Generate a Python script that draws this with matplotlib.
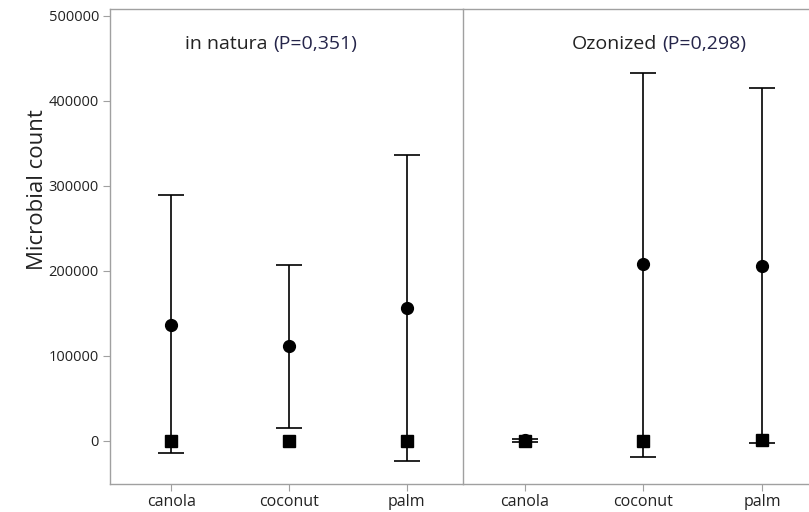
import matplotlib
matplotlib.use("Agg")
import matplotlib.pyplot as plt

plt.rcParams['font.family'] = ['Open Sans', 'DejaVu Sans']

categories = ["canola", "coconut", "palm"]

# in natura
nat_mean = [136300, 112000, 155900]
nat_upper = [289400, 207600, 336100]
nat_lower = [-14100, 15600, -23500]
nat_median = [0, 0, 0]

# ozonized
ozo_mean = [1000, 208800, 206000]
ozo_upper = [2700, 433300, 415600]
ozo_lower = [-800, -18400, -2000]
ozo_median = [0, 0, 1200]

panel_titles = ["in natura", "Ozonized"]
panel_pvals = ["(P=0,351)", "(P=0,298)"]

yticks = [0, 100000, 200000, 300000, 400000, 500000]

W, H = 809, 512
fig = plt.figure(figsize=(W / 100, H / 100), dpi=100)
ax1 = fig.add_axes([110 / W, 1 - 484 / H, 353 / W, 475 / H])
ax2 = fig.add_axes([463 / W, 1 - 484 / H, 356 / W, 475 / H], sharey=ax1)

spine_c = "#a0a0a0"
text_c = "#222222"

def draw(ax, mean, upper, lower, median, title, pval, tx_right, tx_left):
    x = list(range(len(categories)))
    yerr = [[m - l for m, l in zip(mean, lower)], [u - m for m, u in zip(mean, upper)]]
    ax.errorbar(x, mean, yerr=yerr, fmt='none', ecolor='black', elinewidth=1.2,
                capsize=9.7, capthick=1.2, zorder=2)
    ax.plot(x, mean, 'o', color='black', markersize=8.5, zorder=3)
    ax.plot(x, median, 's', color='black', markersize=9, zorder=4)
    ax.set_xlim(-0.52, 2.48)
    ax.set_xticks(x)
    ax.set_xticklabels(categories, fontsize=11.5, color=text_c)
    for s in ax.spines.values():
        s.set_color(spine_c)
        s.set_linewidth(1.0)
    ax.tick_params(axis='x', colors=spine_c, labelcolor=text_c, length=5, pad=2)
    ax.text(tx_right, 0.926, title, transform=ax.transAxes, fontsize=14, color=text_c,
            ha='right', va='center')
    ax.text(tx_left, 0.926, pval, transform=ax.transAxes, fontsize=14,
            color='#25254a', ha='left', va='center')

draw(ax1, nat_mean, nat_upper, nat_lower, nat_median, panel_titles[0], panel_pvals[0], 0.445, 0.462)
draw(ax2, ozo_mean, ozo_upper, ozo_lower, ozo_median, panel_titles[1], panel_pvals[1], 0.545, 0.559)

ax1.set_ylim(-50600, 508200)
ax1.set_yticks(yticks)
ax1.set_yticklabels([str(v) for v in yticks], fontsize=10.5, color=text_c)
ax1.tick_params(axis='y', colors=spine_c, labelcolor=text_c, length=5, pad=3)
ax1.spines['right'].set_visible(False)
ax2.tick_params(axis='y', left=False, labelleft=False)
ax2.spines['right'].set_visible(False)

fig.text(38 / W, 1 - 190 / H, "Microbial count", rotation=90, fontsize=16,
         color=text_c, ha='center', va='center')

fig.savefig("out.png", dpi=100)
